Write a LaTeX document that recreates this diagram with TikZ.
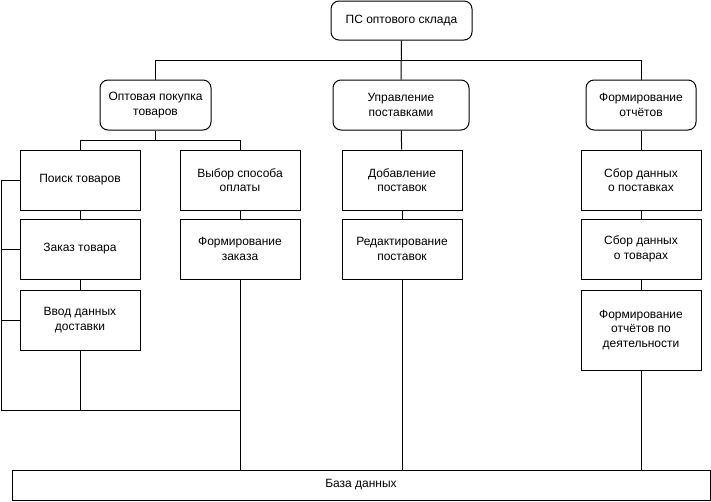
\documentclass[tikz,border=0pt]{standalone}
\usepackage{fontspec}
\setmainfont{Liberation Sans}
\usepackage{tikz}
\usetikzlibrary{positioning}

\begin{document}
\begin{tikzpicture}[x=1pt,y=-1pt,line width=1pt]
        \tikzstyle{topnode}=[
            rectangle,
            rounded corners=8pt,
            draw=black,
            fill=white,
            align=center,
            inner sep=0pt,
            font=\fontsize{12}{14.4}\selectfont
        ]
        \tikzstyle{funcnode}=[
            rectangle,
            draw=black,
            fill=white,
            align=center,
            inner sep=0pt,
            minimum width=120pt,
            minimum height=60pt,
            font=\fontsize{12}{14.4}\selectfont
        ]

        \useasboundingbox (0,0) rectangle (711,501);

        \node[topnode, minimum width=141pt, minimum height=39pt] (root) at (401.5,20.5){ПС оптового склада};

        \node[topnode, minimum width=111pt, minimum height=50pt] (buy) at (155.5,105){Оптовая покупка\\товаров};
        \node[topnode, minimum width=136pt, minimum height=50pt] (manage) at (401,105){Управление\\поставками};
        \node[topnode, minimum width=110pt, minimum height=50pt] (report) at (641,105){Формирование\\отчётов};

        \node[funcnode] (search) at (80,180){Поиск товаров};
        \node[funcnode] (order) at (80,249){Заказ товара};
        \node[funcnode] (deliv) at (80,320){Ввод данных\\доставки};
        \node[funcnode] (pay) at (240,180){Выбор способа\\оплаты};
        \node[funcnode] (form) at (240,249){Формирование\\заказа};
        \node[funcnode] (add) at (402,180){Добавление\\поставок};
        \node[funcnode] (edit) at (402,249){Редактирование\\поставок};
        \node[funcnode] (supply) at (641,180){Сбор данных\\о поставках};
        \node[funcnode] (goods) at (641,249){Сбор данных\\о товарах};
        \node[funcnode, minimum height=80pt] (activity) at (641,330){Формирование\\отчётов по\\деятельности};

        \node[funcnode, minimum width=698pt, minimum height=30pt] (db) at (361,485){База данных};

        \coordinate (lefttop) at (1,180);
        \coordinate (leftbot) at (1,410);
        \coordinate (join) at (240,410);

        \draw (root.south) -- ++(0,20) -| (buy.north);
        \draw (root.south) -- ++(0,20) -| (report.north);
        \draw (root.south) -- (manage.north);

        \draw (buy.south) -- ++(0,10) -| (search.north);
        \draw (buy.south) -- ++(0,10) -| (pay.north);
        \draw (search) -- (order);
        \draw (order) -- (deliv);
        \draw (pay) -- (form);
        \draw (manage) -- (add);
        \draw (add) -- (edit);
        \draw (report) -- (supply);
        \draw (supply) -- (goods);
        \draw (goods) -- (activity);

        \draw (search.west) -- (lefttop) -- (leftbot) -- (join);
        \draw (order.west) -- (order.west -| lefttop);
        \draw (deliv.west) -- (deliv.west -| lefttop);
        \draw (deliv.south) -- (deliv.south |- leftbot);
        \draw (form.south) -- (form.south |- db.north);
        \draw (edit.south) -- (edit.south |- db.north);
        \draw (activity.south) -- (activity.south |- db.north);

    \end{tikzpicture}
\end{document}
